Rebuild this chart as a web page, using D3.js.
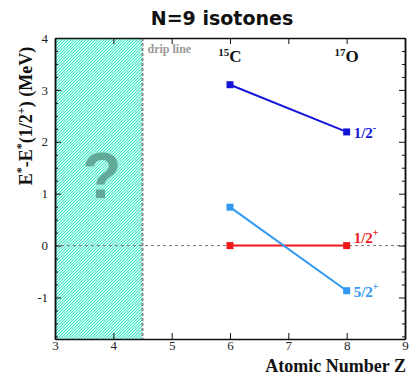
<!DOCTYPE html>
<html><head><meta charset="utf-8">
<script src="https://cdn.jsdelivr.net/npm/d3@7"></script>
<style>body{margin:0;background:#fff}svg{display:block}</style>
</head><body>
<script>
const Z = [6, 8];
const isotopeLabels = [{z:6, mass:"15", sym:"C"}, {z:8, mass:"17", sym:"O"}];
const halfMinus = [3.10, 2.19];
const halfPlus = [0.0, 0.0];
const fiveHalfPlus = [0.74, -0.87];
const xTicks = [3,4,5,6,7,8,9];
const yTicks = [-1,0,1,2,3,4];
const dripLineZ = 4.5;

const W=410,H=376;
const svg=d3.select("body").append("svg").attr("width",W).attr("height",H);
const m={l:55,r:5,t:38,b:37};
const x=d3.scaleLinear().domain([3,9]).range([m.l,W-m.r]);
const y=d3.scaleLinear().domain([-1.8,4]).range([H-m.b,m.t]);
const serif="'Liberation Serif','Times New Roman',serif";

const defs=svg.append("defs");
const pat=defs.append("pattern").attr("id","hatch").attr("patternUnits","userSpaceOnUse")
  .attr("width",3).attr("height",3);
pat.append("rect").attr("width",3).attr("height",3).attr("fill","#fff");
pat.append("path").attr("d","M-1,1 l2,-2 M0,3 l3,-3 M2,4 l2,-2").attr("stroke","#3ae6c4").attr("stroke-width",1.15);

// hatched region
svg.append("rect").attr("x",x(3)).attr("y",y(4)).attr("width",x(dripLineZ)-x(3)).attr("height",y(-1.8)-y(4)).attr("fill","url(#hatch)");
svg.append("text").attr("x",(x(3)+x(dripLineZ))/2+3).attr("y",y(0.92)).attr("text-anchor","middle")
  .attr("font-family","'Liberation Sans',Arial,sans-serif").attr("font-weight","bold").attr("font-size",64)
  .attr("fill","#4a8a78").attr("fill-opacity",0.7).text("?");

// drip line
svg.append("line").attr("x1",x(dripLineZ)).attr("x2",x(dripLineZ)).attr("y1",y(4)).attr("y2",y(-1.8))
  .attr("stroke","#888").attr("stroke-width",2).attr("stroke-dasharray","3,2");
svg.append("text").attr("x",x(dripLineZ)+5).attr("y",53).attr("font-family",serif).attr("font-weight","bold")
  .attr("font-size",12).attr("fill","#999").text("drip line");

// zero line
svg.append("line").attr("x1",x(3)).attr("x2",x(9)).attr("y1",y(0)).attr("y2",y(0))
  .attr("stroke","#777").attr("stroke-width",1).attr("stroke-dasharray","3,3");

// axes
const axFont=g=>{g.attr("font-family",serif).attr("font-size",13);
  g.selectAll("text").attr("font-family",serif).attr("font-size",13).attr("fill","#222");};
const bottom=svg.append("g").attr("transform",`translate(0,${y(-1.8)})`)
  .call(d3.axisBottom(x).tickValues(xTicks).tickFormat(d=>String(d)).tickSizeInner(-6).tickSizeOuter(0).tickPadding(2));
bottom.call(axFont);
svg.append("g").attr("transform",`translate(0,${y(4)})`)
  .call(d3.axisTop(x).tickValues(xTicks).tickSizeInner(-6).tickSizeOuter(0).tickFormat(""));
const left=svg.append("g").attr("transform",`translate(${x(3)},0)`)
  .call(d3.axisLeft(y).tickValues(yTicks).tickFormat(d=>String(d)).tickSizeInner(-6).tickSizeOuter(0).tickPadding(7));
left.call(axFont);
const minor=d3.range(-1.75,4.01,0.25).filter(v=>Math.abs(v-Math.round(v))>1e-6);
svg.append("g").attr("transform",`translate(${x(3)},0)`)
  .call(d3.axisLeft(y).tickValues(minor).tickSizeInner(-3).tickSizeOuter(0).tickFormat(""));
svg.append("g").attr("transform",`translate(${x(9)},0)`)
  .call(d3.axisRight(y).tickValues(yTicks).tickSizeInner(-6).tickSizeOuter(0).tickFormat(""));
svg.append("g").attr("transform",`translate(${x(9)},0)`)
  .call(d3.axisRight(y).tickValues(minor).tickSizeInner(-3).tickSizeOuter(0).tickFormat(""));
svg.selectAll(".domain").attr("stroke","#111").attr("stroke-width",1.5);
svg.selectAll(".tick line").attr("stroke","#111").attr("stroke-width",1);

// series
const series=[
  {vals:halfMinus,color:"#1515d8",lab:"1/2",sup:"-",dy:6},
  {vals:halfPlus,color:"#f01818",lab:"1/2",sup:"+",dy:-3},
  {vals:fiveHalfPlus,color:"#3399f2",lab:"5/2",sup:"+",dy:6}
];
const line=d3.line().x((d,i)=>x(Z[i])).y(d=>y(d));
series.forEach(s=>{
  svg.append("path").datum(s.vals).attr("d",line).attr("fill","none").attr("stroke",s.color).attr("stroke-width",2);
  svg.selectAll(null).data(s.vals).enter().append("rect")
    .attr("x",(d,i)=>x(Z[i])-3.5).attr("y",d=>y(d)-3.5).attr("width",7).attr("height",7).attr("fill",s.color);
  const t=svg.append("text").attr("x",x(Z[1])+7).attr("y",y(s.vals[1])+s.dy)
    .attr("font-family",serif).attr("font-weight","bold").attr("font-size",15).attr("fill",s.color);
  t.append("tspan").text(s.lab);
  t.append("tspan").attr("dy",-7).attr("font-size",10).text(s.sup);
});

// isotope labels
isotopeLabels.forEach(d=>{
  const t=svg.append("text").attr("x",x(d.z)).attr("y",62).attr("text-anchor","middle")
    .attr("font-family",serif).attr("font-weight","bold").attr("font-size",17).attr("fill","#111");
  t.append("tspan").attr("font-size",11).attr("dy",-6).text(d.mass);
  t.append("tspan").attr("dy",6).text(d.sym);
});

// title
svg.append("text").attr("x",222).attr("y",25).attr("text-anchor","middle")
  .attr("font-family","'DejaVu Sans',sans-serif").attr("font-weight","bold").attr("font-size",19)
  .attr("fill","#111").text("N=9 isotones");

// x label
svg.append("text").attr("x",W-4).attr("y",372).attr("text-anchor","end")
  .attr("font-family",serif).attr("font-weight","bold").attr("font-size",18).attr("fill","#111").text("Atomic Number Z");

// y label
const yl=svg.append("text").attr("transform","translate(32,116) rotate(-90)").attr("text-anchor","middle")
  .attr("font-family",serif).attr("font-weight","bold").attr("font-size",18).attr("fill","#111");
yl.append("tspan").text("E");
yl.append("tspan").attr("dy",-7).attr("font-size",12).text("*");
yl.append("tspan").attr("dy",7).text("-E");
yl.append("tspan").attr("dy",-7).attr("font-size",12).text("*");
yl.append("tspan").attr("dy",7).text("(1/2");
yl.append("tspan").attr("dy",-7).attr("font-size",12).text("+");
yl.append("tspan").attr("dy",7).text(") (MeV)");
</script>
</body></html>
